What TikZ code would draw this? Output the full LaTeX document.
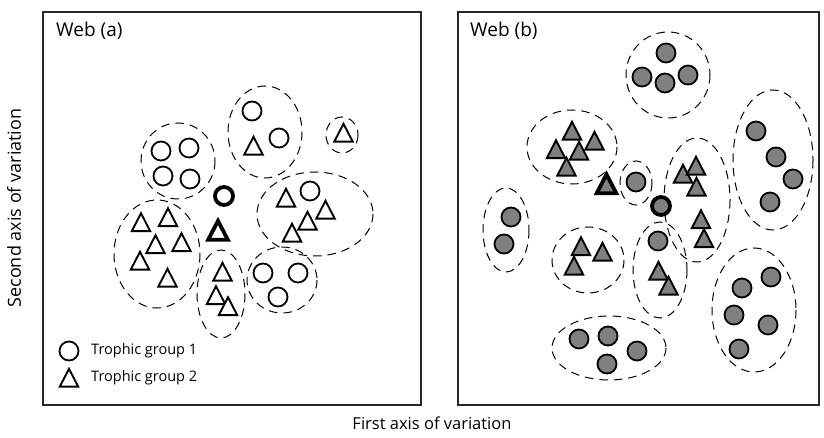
\documentclass[tikz,border=0pt]{standalone}
\usepackage{fontspec}
\setmainfont{Open Sans}
\definecolor{mgray}{RGB}{128,128,128}
\definecolor{frame}{RGB}{40,40,40}
\begin{document}
\begin{tikzpicture}[x=1pt,y=-1pt,
  grp/.style={draw=black, line width=1pt, dash pattern=on 8.5pt off 6pt},
  cw/.style={circle, draw=black, line width=1.8pt, minimum size=19pt, inner sep=0pt},
  cg/.style={cw, fill=mgray},
  cwb/.style={circle, draw=black, line width=3.8pt, minimum size=18pt, inner sep=0pt},
  cgb/.style={cwb, fill=mgray},
  tri/.pic={\path[pic actions, line join=miter, miter limit=3] (0,-9.2) -- (9.2,8.6) -- (-9.2,8.6) -- cycle;},
  trib/.pic={\path[pic actions, line join=miter, miter limit=3] (0,-9.6) -- (9.8,9.2) -- (-9.8,9.2) -- cycle;},
  tw/.style={draw=black, line width=1.9pt, fill=white},
  tg/.style={draw=black, line width=1.9pt, fill=mgray},
  twb/.style={draw=black, line width=3.8pt, fill=white},
  tgb/.style={draw=black, line width=3.8pt, fill=mgray},
  lbl/.style={inner sep=0pt, anchor=base west}
]
\useasboundingbox (0,0) rectangle (824,438);
% frames
\draw[frame, line width=1.4pt] (43,12) rectangle (421,405);
\draw[frame, line width=1.4pt] (458,12) rectangle (819,405);
\node[lbl, font=\fontsize{19}{22}\selectfont] (wa) at (56,37) {Web (a)};
\node[lbl, font=\fontsize{19}{22}\selectfont] (wb) at (470,37) {Web (b)};
\node[font=\fontsize{16.5}{20}\selectfont] (xl) at (432,423) {First axis of variation};
\node[font=\fontsize{18}{20}\selectfont, rotate=90] (yl) at (14,208) {Second axis of variation};

% ---------- Web (a) ----------
\draw[grp] (178,161) ellipse [x radius=37, y radius=38];
\node[cw] (a1) at (161,151) {};
\node[cw] (a2) at (189,148) {};
\node[cw] (a3) at (163,176) {};
\node[cw] (a4) at (190,179) {};

\draw[grp] (265,132) ellipse [x radius=37, y radius=46];
\node[cw] (a5) at (252,111) {};
\node[cw] (a6) at (279,138) {};
\pic[tw] at (253.5,146) {tri};

\draw[grp] (342,135) ellipse [x radius=16, y radius=18];
\pic[tw] at (343.5,133) {tri};

\draw[grp] (315,214) ellipse [x radius=58, y radius=42];
\pic[tw] at (286,198) {tri};
\node[cw] (a7) at (310,191) {};
\pic[tw] at (325.5,210) {tri};
\pic[tw] at (307.5,221) {tri};
\pic[tw] at (292,233) {tri};

\draw[grp] (157,254) ellipse [x radius=43, y radius=54];
\pic[tw] at (141,222.5) {tri};
\pic[tw] at (168,217.5) {tri};
\pic[tw] at (155.5,244.5) {tri};
\pic[tw] at (181.5,242.5) {tri};
\pic[tw] at (140,261) {tri};
\pic[tw] at (167.5,278) {tri};

\draw[grp] (221,294) ellipse [x radius=24, y radius=44];
\pic[tw] at (222.5,272) {tri};
\pic[tw] at (216,295.5) {tri};
\pic[tw] at (228,306.5) {tri};

\draw[grp] (282,280) ellipse [x radius=35, y radius=33];
\node[cw] (a8) at (263,273) {};
\node[cw] (a9) at (298,273) {};
\node[cw] (a10) at (278,297) {};

\node[cwb] (ab) at (224,196) {};
\pic[twb] at (218,230.5) {trib};

% legend
\node[cw] (lc) at (69,351) {};
\pic[tw] at (69,378) {tri};
\node[anchor=west, inner sep=0pt, font=\fontsize{14.5}{16}\selectfont] (l1) at (91,351) {Trophic group 1};
\node[anchor=west, inner sep=0pt, font=\fontsize{14.5}{16}\selectfont] (l2) at (91,378) {Trophic group 2};

% ---------- Web (b) ----------
\draw[grp] (668,75) ellipse [x radius=42, y radius=43];
\node[cg] (b1) at (666,53) {};
\node[cg] (b2) at (642,77) {};
\node[cg] (b3) at (665,83) {};
\node[cg] (b4) at (688,75) {};

\draw[grp] (773,160) ellipse [x radius=40, y radius=70];
\node[cg] (b5) at (756,131) {};
\node[cg] (b6) at (776,157) {};
\node[cg] (b7) at (793,179) {};
\node[cg] (b8) at (770,202) {};

\draw[grp] (572,147) ellipse [x radius=45, y radius=37];
\pic[tg] at (572,131) {tri};
\pic[tg] at (594.5,141) {tri};
\pic[tg] at (556,149.5) {tri};
\pic[tg] at (579,151) {tri};
\pic[tg] at (566.5,167) {tri};

\draw[grp] (636,183) ellipse [x radius=16, y radius=22];
\node[cg] (b9) at (636,182) {};

\draw[grp] (506,230) ellipse [x radius=23, y radius=42];
\node[cg] (b10) at (511,217) {};
\node[cg] (b11) at (504,244) {};

\draw[grp] (697,200) ellipse [x radius=33, y radius=62];
\pic[tg] at (683,174) {tri};
\pic[tg] at (696,166) {tri};
\pic[tg] at (696.5,187) {tri};
\pic[tg] at (701,219.5) {tri};
\pic[tg] at (704,238.5) {tri};

\draw[grp] (660,270) ellipse [x radius=27, y radius=48];
\node[cg] (b12) at (658,241) {};
\pic[tg] at (658.5,271) {tri};
\pic[tg] at (668.5,286) {tri};

\draw[grp] (588,260) ellipse [x radius=36, y radius=33];
\pic[tg] at (581,246.5) {tri};
\pic[tg] at (602.5,252) {tri};
\pic[tg] at (574,266) {tri};

\draw[grp] (609,348) ellipse [x radius=57, y radius=32];
\node[cg] (b13) at (579,339) {};
\node[cg] (b14) at (608,336) {};
\node[cg] (b15) at (637,351) {};
\node[cg] (b16) at (607,364) {};

\draw[grp] (754,310) ellipse [x radius=42, y radius=62];
\node[cg] (b17) at (771,277) {};
\node[cg] (b18) at (742,288) {};
\node[cg] (b19) at (734,315) {};
\node[cg] (b20) at (768,325) {};
\node[cg] (b21) at (739,349) {};

\node[cgb] (bb) at (661,206) {};
\pic[tgb] at (606.5,184) {trib};
\end{tikzpicture}
\end{document}
